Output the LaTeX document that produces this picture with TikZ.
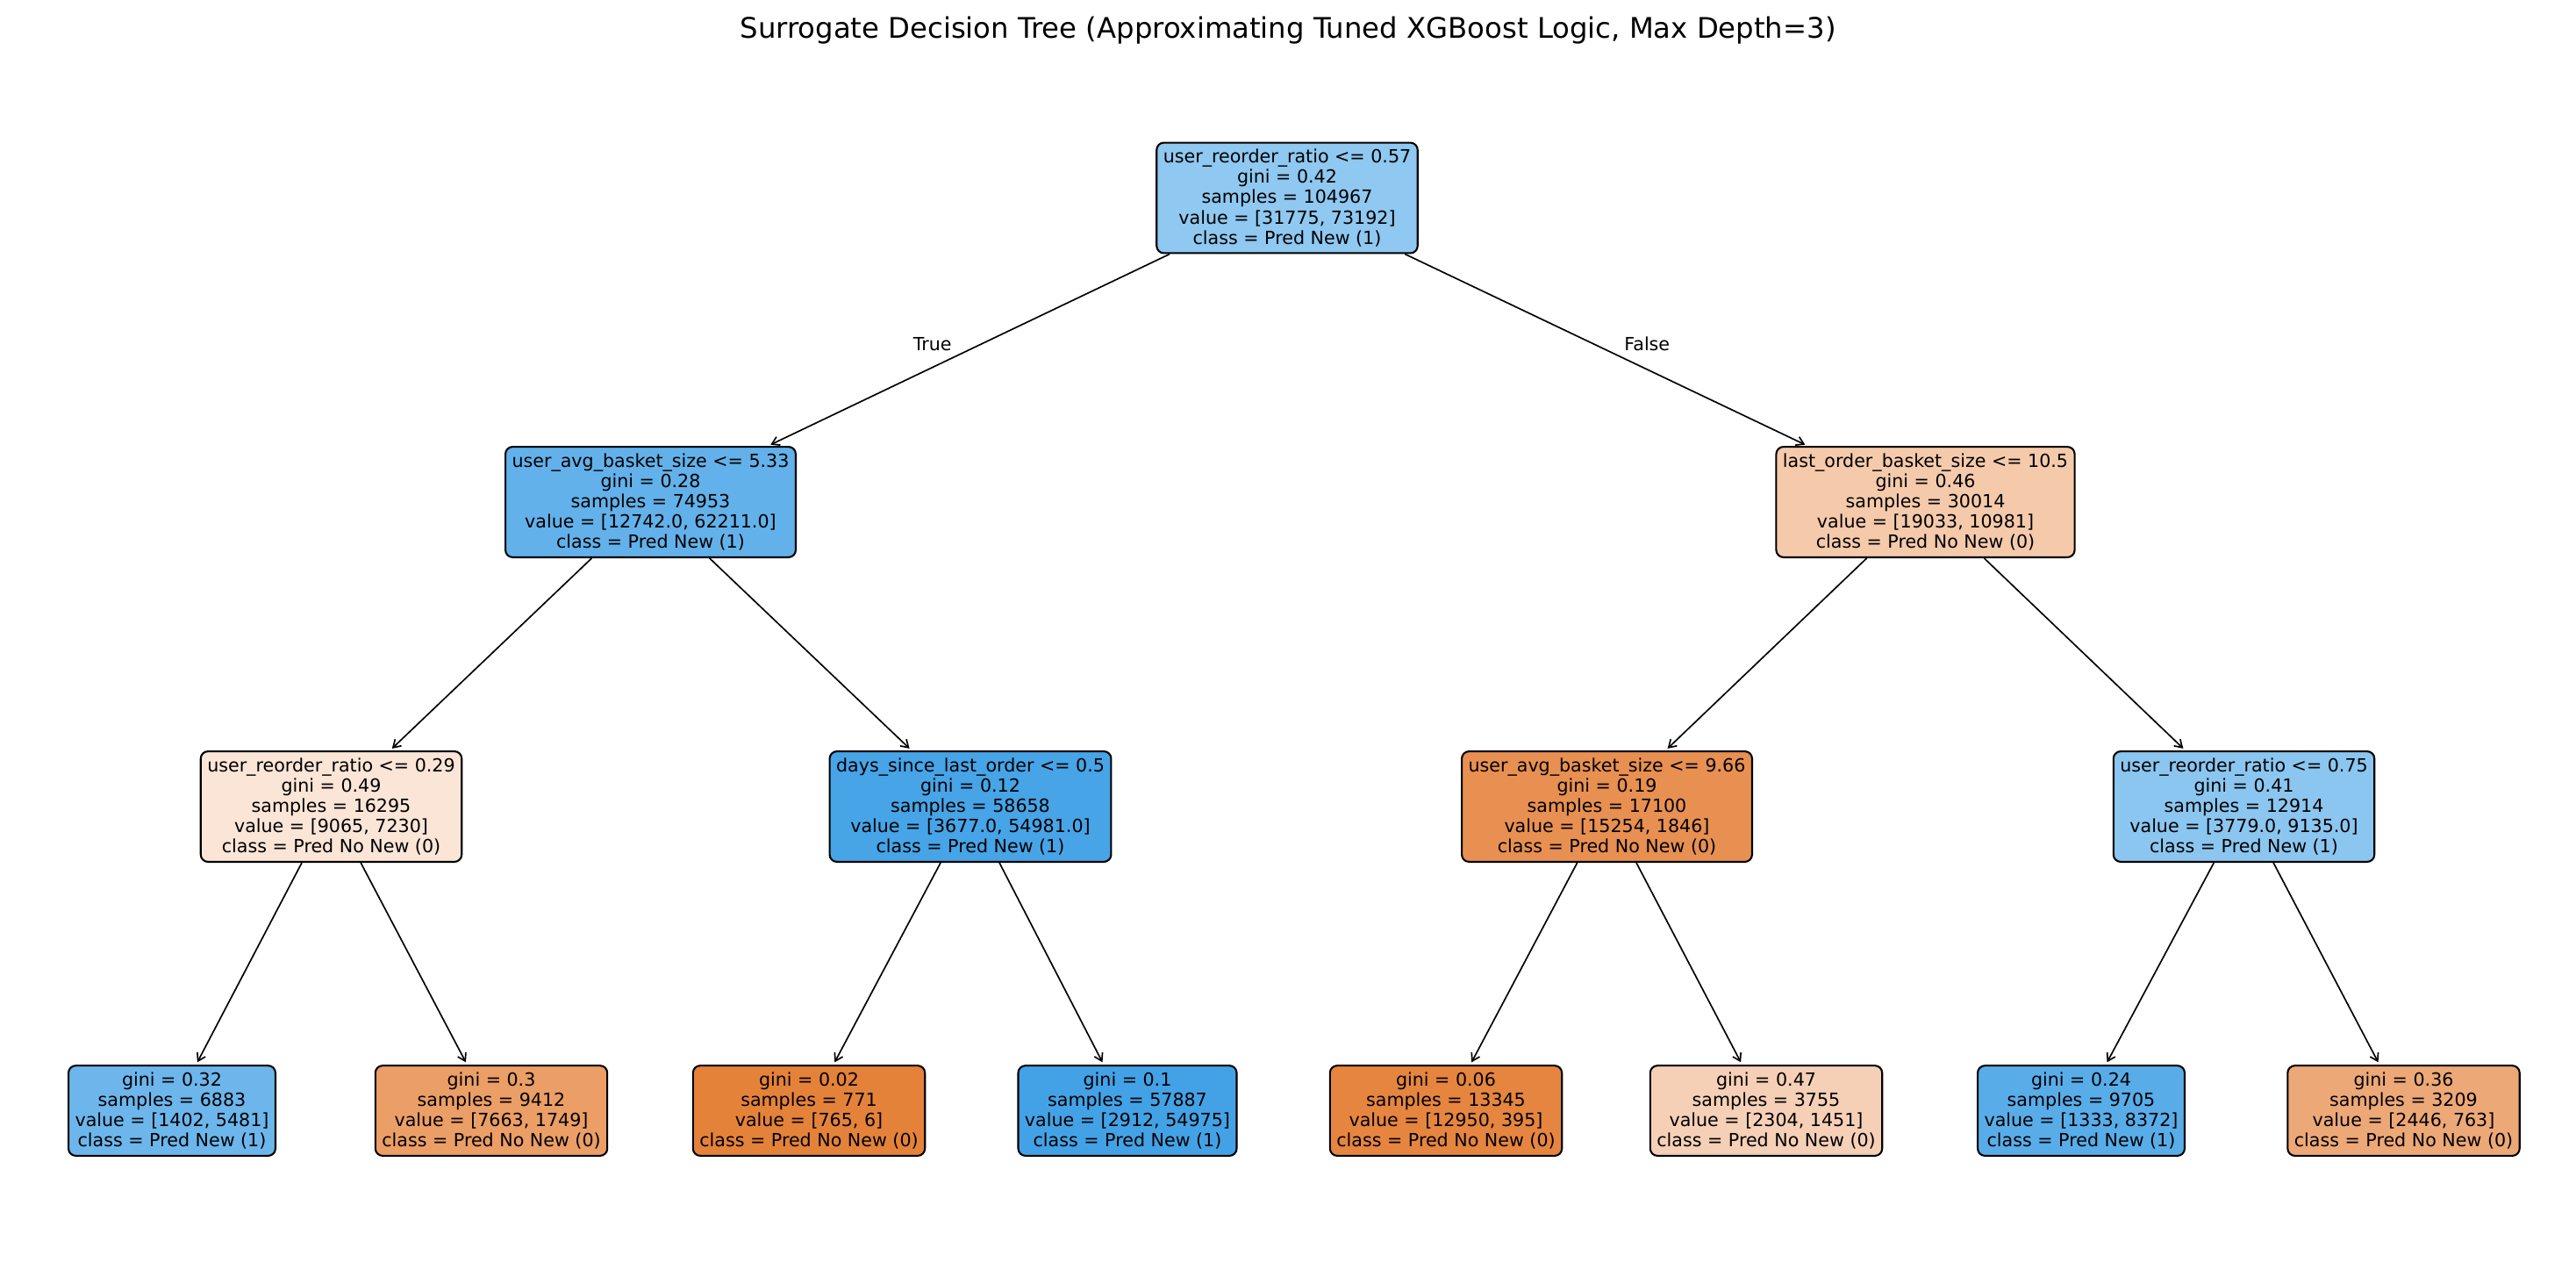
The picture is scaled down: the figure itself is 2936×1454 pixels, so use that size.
\documentclass[tikz,border=0pt]{standalone}
\usepackage{fontspec}
\setmainfont{DejaVu Sans}
\usetikzlibrary{arrows.meta, positioning}
% fill colours of the tree nodes
\definecolor{cRoot}{RGB}{143,200,240}
\definecolor{cA}{RGB}{98,177,234}
\definecolor{cB}{RGB}{244,202,171}
\definecolor{cAA}{RGB}{250,229,215}
\definecolor{cAB}{RGB}{70,164,231}
\definecolor{cBA}{RGB}{232,144,81}
\definecolor{cBB}{RGB}{139,198,240}
\definecolor{cL1}{RGB}{108,182,236}
\definecolor{cL2}{RGB}{235,158,102}
\definecolor{cL3}{RGB}{229,130,58}
\definecolor{cL4}{RGB}{67,162,230}
\definecolor{cL5}{RGB}{230,133,63}
\definecolor{cL6}{RGB}{245,208,182}
\definecolor{cL7}{RGB}{88,173,233}
\definecolor{cL8}{RGB}{237,168,119}

\begin{document}
\begin{tikzpicture}[x=0.48pt, y=-0.48pt,
    tnode/.style={draw=black, line width=1pt, rounded corners=4pt, align=center,
        inner sep=3.6pt, font=\fontsize{9.9}{11.1}\selectfont},
    edge/.style={-{Straight Barb[length=4pt,width=5pt]}, line width=0.8pt, shorten >=1.5pt},
    lbl/.style={font=\fontsize{9.9}{11.1}\selectfont}]
    \useasboundingbox (0,0) rectangle (2936,1454);

    \node[font=\fontsize{15.5}{18}\selectfont, anchor=base] (title) at (1468,43)
        {Surrogate Decision Tree (Approximating Tuned XGBoost Logic, Max Depth=3)};

    % depth 0 and 1
    \node[tnode, fill=cRoot] (root) at (1467,225.5) {user\_reorder\_ratio <= 0.57\\gini = 0.42\\samples = 104967\\value = [31775, 73192]\\class = Pred New (1)};
    \node[tnode, fill=cA] (a) at (741.5,572) {user\_avg\_basket\_size <= 5.33\\gini = 0.28\\samples = 74953\\value = [12742.0, 62211.0]\\class = Pred New (1)};
    \node[tnode, fill=cB] (b) at (2194.5,572) {last\_order\_basket\_size <= 10.5\\gini = 0.46\\samples = 30014\\value = [19033, 10981]\\class = Pred No New (0)};

    % depth 2
    \node[tnode, fill=cAA] (aa) at (377.5,919) {user\_reorder\_ratio <= 0.29\\gini = 0.49\\samples = 16295\\value = [9065, 7230]\\class = Pred No New (0)};
    \node[tnode, fill=cAB] (ab) at (1106,919) {days\_since\_last\_order <= 0.5\\gini = 0.12\\samples = 58658\\value = [3677.0, 54981.0]\\class = Pred New (1)};
    \node[tnode, fill=cBA] (ba) at (1831.5,919) {user\_avg\_basket\_size <= 9.66\\gini = 0.19\\samples = 17100\\value = [15254, 1846]\\class = Pred No New (0)};
    \node[tnode, fill=cBB] (bb) at (2557.5,919) {user\_reorder\_ratio <= 0.75\\gini = 0.41\\samples = 12914\\value = [3779.0, 9135.0]\\class = Pred New (1)};

    % leaves
    \node[tnode, fill=cL1] (aaa) at (196,1265.5) {gini = 0.32\\samples = 6883\\value = [1402, 5481]\\class = Pred New (1)};
    \node[tnode, fill=cL2] (aab) at (560,1265.5) {gini = 0.3\\samples = 9412\\value = [7663, 1749]\\class = Pred No New (0)};
    \node[tnode, fill=cL3] (aba) at (922,1265.5) {gini = 0.02\\samples = 771\\value = [765, 6]\\class = Pred No New (0)};
    \node[tnode, fill=cL4] (abb) at (1285,1265.5) {gini = 0.1\\samples = 57887\\value = [2912, 54975]\\class = Pred New (1)};
    \node[tnode, fill=cL5] (baa) at (1648,1265.5) {gini = 0.06\\samples = 13345\\value = [12950, 395]\\class = Pred No New (0)};
    \node[tnode, fill=cL6] (bab) at (2013,1265.5) {gini = 0.47\\samples = 3755\\value = [2304, 1451]\\class = Pred No New (0)};
    \node[tnode, fill=cL7] (bba) at (2372,1265.5) {gini = 0.24\\samples = 9705\\value = [1333, 8372]\\class = Pred New (1)};
    \node[tnode, fill=cL8] (bbb) at (2739.5,1265.5) {gini = 0.36\\samples = 3209\\value = [2446, 763]\\class = Pred No New (0)};

    % connectors
    \foreach \p/\c in {root/a, root/b, a/aa, a/ab, b/ba, b/bb,
        aa/aaa, aa/aab, ab/aba, ab/abb, ba/baa, ba/bab, bb/bba, bb/bbb}
        \draw[edge] (\p) -- (\c);

    \node[lbl, anchor=east] (true) at (1092,392) {True};
    \node[lbl, anchor=west] (false) at (1844,392) {False};
\end{tikzpicture}
\end{document}
